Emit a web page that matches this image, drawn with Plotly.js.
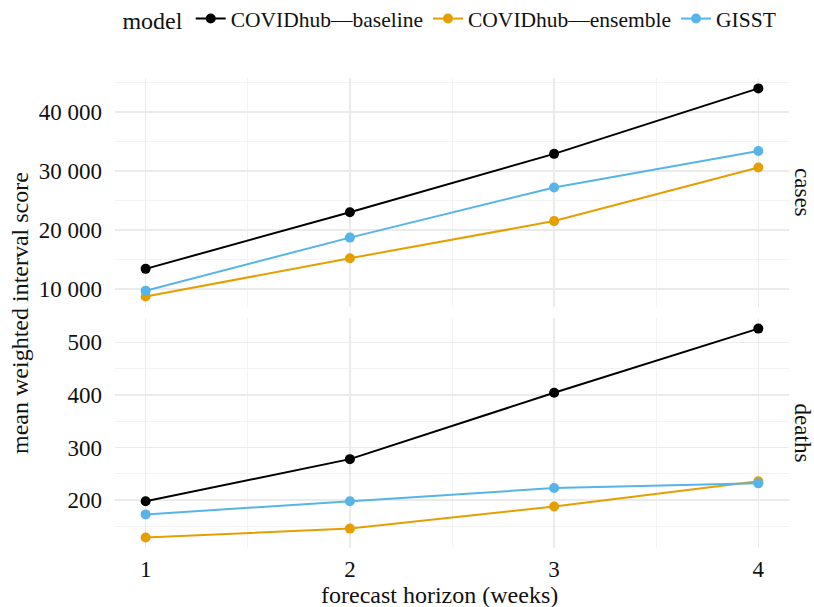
<!DOCTYPE html>
<html>
<head>
<meta charset="utf-8">
<script src="https://cdn.plot.ly/plotly-3.0.1.min.js"></script>
<style>html,body{margin:0;padding:0;background:#fff}#chart{width:814px;height:607px}</style>
</head>
<body>
<div id="chart"></div>
<script>
const horizons = [1, 2, 3, 4];
const models = ["COVIDhub\u2014baseline", "COVIDhub\u2014ensemble", "GISST"];
const colors = ["#000000", "#E69F00", "#56B4E9"];
// cases panel
const casesBaseline = [13400, 23000, 32900, 44000];
const casesEnsemble = [8700, 15200, 21500, 30600];
const casesGISST    = [9700, 18700, 27200, 33400];
// deaths panel
const deathsBaseline = [198, 278, 404, 526];
const deathsEnsemble = [129, 146, 188, 236];
const deathsGISST    = [173, 198, 223, 232];

const casesTickVals = [10000, 20000, 30000, 40000];
const casesTickText = ["10 000", "20 000", "30 000", "40 000"];
const casesMinor = [15000, 25000, 35000, 45000];
const deathsTickVals = [200, 300, 400, 500];
const deathsTickText = ["200", "300", "400", "500"];
const deathsMinor = [150, 250, 350, 450];
const xMinor = [1.5, 2.5, 3.5];

function expand(arrs) {
  const all = [].concat(...arrs);
  const lo = Math.min(...all), hi = Math.max(...all);
  const pad = (hi - lo) * 0.05;
  return [lo - pad, hi + pad];
}

const font = "Liberation Serif";
const txt = "#111111";
const casesSeries = [casesBaseline, casesEnsemble, casesGISST];
const deathsSeries = [deathsBaseline, deathsEnsemble, deathsGISST];

const traces = [];
models.forEach((m, i) => {
  traces.push({
    x: horizons, y: casesSeries[i], xaxis: "x2", yaxis: "y2",
    type: "scatter", mode: "lines+markers", name: m, legendgroup: m,
    showlegend: true,
    line: {color: colors[i], width: 2}, marker: {color: colors[i], size: 10}
  });
});
models.forEach((m, i) => {
  traces.push({
    x: horizons, y: deathsSeries[i], xaxis: "x", yaxis: "y",
    type: "scatter", mode: "lines+markers", name: m, legendgroup: m,
    showlegend: false,
    line: {color: colors[i], width: 2}, marker: {color: colors[i], size: 10}
  });
});

const gridC = "#ebebeb", minorC = "#f3f3f3";
const xr = expand([horizons]);
const xcommon = {
  range: xr, showline: false, zeroline: false, ticks: "",
  tickvals: horizons, ticktext: horizons.map(String),
  showgrid: true, gridcolor: gridC, gridwidth: 1.5,
  minor: {tickvals: xMinor, showgrid: true, gridcolor: minorC, gridwidth: 1},
  tickfont: {family: font, size: 23, color: txt}
};

const layout = {
  width: 814, height: 607,
  margin: {l: 115, r: 25, t: 78, b: 59, autoexpand: false},
  paper_bgcolor: "#fff", plot_bgcolor: "#fff",
  font: {family: font, color: txt},
  showlegend: true,
  legend: {
    orientation: "h", x: 0.008, xanchor: "left", y: 1.17, yanchor: "top",
    title: {text: "model", font: {family: font, size: 24, color: txt}},
    font: {family: font, size: 21.5, color: txt}, itemwidth: 30, tracegroupgap: 0
  },
  xaxis: Object.assign({}, xcommon, {domain: [0, 1], anchor: "y", ticklabelstandoff: 5}),
  xaxis2: Object.assign({}, xcommon, {domain: [0, 1], anchor: "y2", matches: "x", showticklabels: false}),
  yaxis: {
    domain: [0, 0.489], anchor: "x", range: expand(deathsSeries),
    tickvals: deathsTickVals, ticktext: deathsTickText, ticks: "",
    showline: false, zeroline: false, showgrid: true, gridcolor: gridC, gridwidth: 1.5,
    minor: {tickvals: deathsMinor, showgrid: true, gridcolor: minorC, gridwidth: 1},
    tickfont: {family: font, size: 23, color: txt}, ticklabelstandoff: 12
  },
  yaxis2: {
    domain: [0.5128, 1], anchor: "x2", range: expand(casesSeries),
    tickvals: casesTickVals, ticktext: casesTickText, ticks: "",
    showline: false, zeroline: false, showgrid: true, gridcolor: gridC, gridwidth: 1.5,
    minor: {tickvals: casesMinor, showgrid: true, gridcolor: minorC, gridwidth: 1},
    tickfont: {family: font, size: 23, color: txt}, ticklabelstandoff: 12
  },
  annotations: [
    {text: "mean weighted interval score", xref: "paper", yref: "paper",
     x: -0.141, y: 0.5, textangle: -90, showarrow: false,
     font: {family: font, size: 24, color: txt}, xanchor: "center", yanchor: "middle"},
    {text: "forecast horizon (weeks)", xref: "paper", yref: "paper",
     x: 0.482, y: -0.1, showarrow: false,
     font: {family: font, size: 24, color: txt}, xanchor: "center", yanchor: "middle"},
    {text: "cases", xref: "paper", yref: "paper", x: 1.02, y: 0.7564, textangle: 90,
     showarrow: false, font: {family: font, size: 23, color: txt}, xanchor: "center", yanchor: "middle"},
    {text: "deaths", xref: "paper", yref: "paper", x: 1.02, y: 0.2445, textangle: 90,
     showarrow: false, font: {family: font, size: 23, color: txt}, xanchor: "center", yanchor: "middle"}
  ]
};

Plotly.newPlot("chart", traces, layout, {displayModeBar: false, staticPlot: true});
</script>
</body>
</html>
